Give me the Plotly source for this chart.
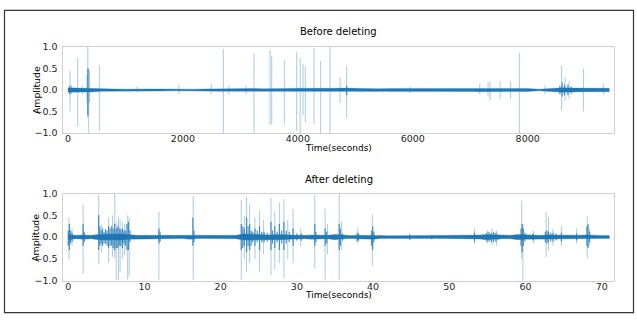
import plotly.graph_objects as go

# ---------------- data ----------------
# Before deleting: noise-floor envelope (time, amplitude)
TOP_CORE_T = [0, 200, 400, 600, 800, 1000, 1200, 1400, 1600, 1800, 2000, 2200, 2400, 2600,
              2800, 3000, 3200, 3400, 3600, 3800, 4000, 4200, 4400, 4600, 4800, 5000, 5200,
              5400, 5600, 5800, 6000, 6200, 6400, 6600, 6800, 7000, 7200, 7400, 7600, 7800,
              8000, 8200, 8400, 8600, 8800, 9000, 9200, 9420]
TOP_CORE_A = [0.05, 0.04, 0.045, 0.03, 0.025, 0.02, 0.03, 0.025, 0.025, 0.02, 0.025, 0.02, 0.025, 0.03,
              0.04, 0.035, 0.035, 0.03, 0.04, 0.035, 0.04, 0.035, 0.035, 0.04, 0.045, 0.035, 0.035,
              0.03, 0.035, 0.035, 0.04, 0.035, 0.03, 0.035, 0.035, 0.035, 0.04, 0.04, 0.04, 0.04,
              0.035, 0.02, 0.035, 0.05, 0.045, 0.04, 0.035, 0.04]
# Before deleting: peaks (time, max, min)
TOP_SPIKE_T = [35, 60, 169, 250, 330, 345, 360, 375, 545, 1200, 1930, 2490, 2703, 2800, 3100,
               3237, 3515, 3545, 3765, 3980, 4040, 4090, 4130, 4281, 4397, 4560, 4735, 4850,
               5950, 7165, 7310, 7345, 7520, 7700, 7855, 8300, 8590, 8650, 8720, 8970, 9316]
TOP_SPIKE_HI = [0.45, 0.12, 0.75, 0.10, 0.35, 1.0, 0.5, 0.45, 0.58, 0.08, 0.12, 0.15, 0.95, 0.10, 0.10,
                0.85, 0.93, 0.80, 0.70, 0.88, 0.75, 0.60, 0.55, 0.98, 0.68, 1.0, 0.30, 0.55,
                0.08, 0.15, 0.18, 0.20, 0.20, 0.20, 0.87, 0.10, 0.58, 0.30, 0.20, 0.50, 0.15]
TOP_SPIKE_LO = [-0.5, -0.1, -0.85, -0.1, -0.3, -0.65, -1.0, -0.3, -0.95, -0.06, -0.1, -0.1, -1.0, -0.1, -0.1,
                -1.0, -0.82, -0.8, -0.8, -0.95, -1.0, -0.6, -0.75, -0.8, -1.0, -1.0, -0.3, -0.65,
                -0.08, -0.1, -0.15, -0.25, -0.22, -0.2, -1.0, -0.1, -0.47, -0.25, -0.2, -0.5, -0.1]
# Before deleting: dense bursts (time, max, min)
TOP_BURST_T = [30, 345, 4850, 8560, 8600, 8640, 8700, 8760]
TOP_BURST_HI = [0.10, 0.50, 0.10, 0.10, 0.18, 0.12, 0.12, 0.08]
TOP_BURST_LO = [-0.10, -0.60, -0.12, -0.10, -0.15, -0.12, -0.12, -0.08]

# After deleting: noise-floor envelope
BOT_CORE_T = list(range(0, 71)) + [71]
BOT_CORE_A = [0.06, 0.04, 0.05, 0.04, 0.06, 0.07, 0.07, 0.07, 0.05, 0.04, 0.04, 0.04, 0.05, 0.035,
              0.035, 0.035, 0.05, 0.035, 0.035, 0.04, 0.04, 0.035, 0.04, 0.07, 0.07, 0.06, 0.05, 0.06,
              0.06, 0.05, 0.04, 0.04, 0.05, 0.05, 0.04, 0.06, 0.04, 0.035, 0.04, 0.04, 0.05, 0.035,
              0.03, 0.035, 0.035, 0.04, 0.035, 0.035, 0.035, 0.03, 0.03, 0.035, 0.035, 0.04, 0.045, 0.06,
              0.05, 0.04, 0.04, 0.06, 0.05, 0.04, 0.04, 0.05, 0.045, 0.04, 0.04, 0.04, 0.05, 0.035,
              0.035, 0.035]
BOT_SPIKE_T = [0.1, 0.5, 1.95, 4.0, 4.4, 5.3, 5.8, 6.1, 6.3, 6.6, 6.8, 7.1, 7.4, 7.8, 8.0, 11.9, 16.4,
               22.7, 23.1, 23.4, 23.8, 24.5, 25.1, 25.6, 26.6, 27.1, 27.7, 28.3, 28.8, 29.5, 30.5,
               32.35, 33.7, 34.0, 35.55, 35.85, 38.0, 39.9, 44.8, 53.3, 55.0, 55.6, 56.2, 59.5,
               59.65, 61.0, 62.7, 63.0, 63.6, 64.7, 66.7, 68.1, 68.4]
BOT_SPIKE_HI = [0.45, 0.2, 0.75, 0.97, 0.3, 0.45, 0.5, 1.0, 0.35, 0.45, 0.4, 0.35, 0.3, 0.5, 0.45, 0.58, 0.95,
                0.85, 0.5, 0.92, 0.75, 0.45, 0.6, 0.4, 0.9, 0.6, 0.8, 0.87, 0.4, 0.65, 0.2,
                0.97, 0.65, 0.3, 1.0, 0.35, 0.2, 0.52, 0.06, 0.2, 0.15, 0.2, 0.15, 0.84,
                0.3, 0.15, 0.58, 0.45, 0.2, 0.25, 0.2, 0.48, 0.2]
BOT_SPIKE_LO = [-0.52, -0.2, -0.85, -0.63, -0.35, -0.6, -0.45, -0.5, -1.0, -1.0, -0.8, -0.5, -0.4, -0.97, -0.9, -1.0, -1.0,
                -1.0, -0.5, -0.8, -0.6, -0.5, -0.8, -0.4, -0.88, -0.75, -0.6, -0.95, -0.5, -0.6, -0.2,
                -0.73, -1.0, -0.4, -1.0, -0.3, -0.15, -0.66, -0.06, -0.15, -0.15, -0.2, -0.2, -0.5,
                -1.0, -0.15, -0.46, -0.3, -0.2, -0.2, -0.15, -0.48, -0.2]
BOT_BURST_T = [0.0, 0.15, 0.3, 0.5, 1.95, 2.1,
               4.0, 4.15, 4.3, 4.5, 4.7, 4.9, 5.1, 5.3, 5.5, 5.7, 5.9, 6.1, 6.3, 6.5, 6.7, 6.9,
               7.1, 7.3, 7.5, 7.7, 7.9, 8.1, 11.9, 12.05, 16.35, 16.5,
               22.7, 22.9, 23.1, 23.4, 23.6, 23.8, 24.0, 24.2, 24.5, 24.8, 25.1, 25.4, 25.7, 26.1,
               26.6, 26.8, 27.1, 27.4, 27.7, 28.0, 28.3, 28.6, 29.0, 29.5, 30.0, 30.6,
               32.35, 32.5, 33.7, 33.9, 35.55, 35.7, 36.0, 37.9, 38.1, 39.8, 39.95, 40.1,
               44.8, 47.7, 53.3, 54.5, 54.9, 55.2, 55.5, 55.8, 56.1, 56.4,
               59.4, 59.55, 59.7, 59.9, 61.0, 62.6, 62.8, 63.0, 63.3, 63.6, 64.0, 64.7, 66.7,
               68.05, 68.2, 68.4]
BOT_BURST_HI = [0.15, 0.3, 0.15, 0.1, 0.3, 0.12,
                0.5, 0.25, 0.15, 0.2, 0.12, 0.18, 0.15, 0.25, 0.2, 0.25, 0.2, 0.3, 0.2, 0.25, 0.2, 0.18,
                0.2, 0.15, 0.15, 0.3, 0.35, 0.15, 0.2, 0.12, 0.45, 0.15,
                0.3, 0.25, 0.2, 0.45, 0.25, 0.3, 0.15, 0.12, 0.2, 0.15, 0.25, 0.12, 0.12, 0.1,
                0.35, 0.15, 0.25, 0.12, 0.3, 0.15, 0.35, 0.15, 0.12, 0.2, 0.08, 0.08,
                0.3, 0.12, 0.2, 0.12, 0.3, 0.2, 0.08, 0.1, 0.08, 0.15, 0.25, 0.12,
                0.06, 0.05, 0.1, 0.06, 0.1, 0.12, 0.1, 0.12, 0.1, 0.06,
                0.2, 0.3, 0.2, 0.1, 0.08, 0.12, 0.15, 0.12, 0.1, 0.1, 0.08, 0.1, 0.08,
                0.25, 0.3, 0.12]
BOT_BURST_LO = [-0.2, -0.3, -0.15, -0.1, -0.2, -0.12,
                -0.3, -0.2, -0.15, -0.2, -0.15, -0.15, -0.2, -0.25, -0.2, -0.2, -0.25, -0.3, -0.25, -0.25, -0.2, -0.2,
                -0.25, -0.15, -0.2, -0.3, -0.3, -0.12, -0.15, -0.1, -0.2, -0.12,
                -0.3, -0.25, -0.2, -0.35, -0.2, -0.3, -0.2, -0.12, -0.2, -0.12, -0.3, -0.12, -0.12, -0.1,
                -0.3, -0.15, -0.25, -0.12, -0.3, -0.15, -0.3, -0.15, -0.12, -0.2, -0.08, -0.08,
                -0.2, -0.12, -0.2, -0.15, -0.3, -0.2, -0.08, -0.1, -0.08, -0.2, -0.3, -0.12,
                -0.06, -0.05, -0.1, -0.06, -0.1, -0.1, -0.12, -0.12, -0.1, -0.06,
                -0.2, -0.35, -0.2, -0.1, -0.08, -0.12, -0.15, -0.12, -0.1, -0.1, -0.08, -0.1, -0.08,
                -0.2, -0.25, -0.12]

Y_TICKS = [-1.0, -0.5, 0.0, 0.5, 1.0]
Y_TICK_TEXT = ["\u22121.0", "\u22120.5", "0.0", "0.5", "1.0"]
TOP_X_TICKS = [0, 2000, 4000, 6000, 8000]
BOT_X_TICKS = [0, 10, 20, 30, 40, 50, 60, 70]
TITLES = ["Before deleting", "After deleting"]
X_LABEL = "Time(seconds)"
Y_LABEL = "Amplitude"

# ---------------- figure ----------------
W, H = 637, 320
BLUE = "#1f77b4"
FONT = "DejaVu Sans"


def px(x):
    return x / W


def py(y):
    return 1 - y / H


def segs(ts, his, los):
    xs, ys = [], []
    for t, h, l in zip(ts, his, los):
        xs += [t, t, None]
        ys += [l, h, None]
    return xs, ys


def band(ts, amps):
    xs = list(ts) + list(ts)[::-1]
    ys = list(amps) + [-a for a in amps][::-1]
    return xs, ys


fig = go.Figure()

panels = [
    ("x", "y", TOP_CORE_T, TOP_CORE_A, TOP_SPIKE_T, TOP_SPIKE_HI, TOP_SPIKE_LO,
     TOP_BURST_T, TOP_BURST_HI, TOP_BURST_LO),
    ("x2", "y2", BOT_CORE_T, BOT_CORE_A, BOT_SPIKE_T, BOT_SPIKE_HI, BOT_SPIKE_LO,
     BOT_BURST_T, BOT_BURST_HI, BOT_BURST_LO),
]
for xa, ya, ct, ca, st, sh, sl, bt, bh, bl in panels:
    sx, sy = segs(st, sh, sl)
    fig.add_trace(go.Scatter(x=sx, y=sy, mode="lines", xaxis=xa, yaxis=ya,
                             line=dict(color="rgba(31,119,180,0.38)", width=1),
                             hoverinfo="skip", showlegend=False))
    bx, by = band(ct, ca)
    fig.add_trace(go.Scatter(x=bx, y=by, mode="lines", fill="toself", xaxis=xa, yaxis=ya,
                             fillcolor=BLUE, line=dict(color=BLUE, width=0.3),
                             hoverinfo="skip", showlegend=False))
    ux, uy = segs(bt, bh, bl)
    fig.add_trace(go.Scatter(x=ux, y=uy, mode="lines", xaxis=xa, yaxis=ya,
                             line=dict(color="rgba(31,119,180,0.8)", width=1.2),
                             hoverinfo="skip", showlegend=False))

axis_common = dict(showline=True, mirror=True, linecolor="#d0d0d0", linewidth=1,
                   showgrid=False, zeroline=False, ticks="",
                   tickfont=dict(family=FONT, size=9.5, color="#262626"))

fig.update_layout(
    width=W, height=H, margin=dict(l=0, r=0, t=0, b=0),
    paper_bgcolor="white", plot_bgcolor="white",
    xaxis=dict(domain=[px(62.5), px(614)], range=[-96, 9502], anchor="y",
               tickvals=TOP_X_TICKS, ticktext=[str(v) for v in TOP_X_TICKS],
               ticklabelstandoff=-3, **axis_common),
    yaxis=dict(domain=[py(131.5), py(42.5)], range=[-1, 1], anchor="x",
               tickvals=Y_TICKS, ticktext=Y_TICK_TEXT, ticklabelstandoff=2, **axis_common),
    xaxis2=dict(domain=[px(62.5), px(614)], range=[-0.75, 71.6], anchor="y2",
                tickvals=BOT_X_TICKS, ticktext=[str(v) for v in BOT_X_TICKS],
                ticklabelstandoff=-3, **axis_common),
    yaxis2=dict(domain=[py(284.3), py(194.3)], range=[-1, 1], anchor="x2",
                tickvals=Y_TICKS, ticktext=Y_TICK_TEXT, ticklabelstandoff=2, **axis_common),
)

ann = []
for title, ty, xl_y, yl_y in [(TITLES[0], 26.5, 147, 87), (TITLES[1], 180, 299, 240)]:
    ann.append(dict(text=title, x=px(338.5), y=py(ty), xref="paper", yref="paper",
                    showarrow=False, xanchor="center", yanchor="middle",
                    font=dict(family=FONT, size=10, color="#000000")))
    ann.append(dict(text=X_LABEL, x=px(338.5), y=py(xl_y), xref="paper", yref="paper",
                    showarrow=False, xanchor="center", yanchor="middle",
                    font=dict(family=FONT, size=9, color="#000000")))
    ann.append(dict(text=Y_LABEL, x=px(36), y=py(yl_y), xref="paper", yref="paper",
                    showarrow=False, xanchor="center", yanchor="middle", textangle=-90,
                    font=dict(family=FONT, size=9.3, color="#000000")))
fig.update_layout(annotations=ann)

fig.add_shape(type="rect", xref="paper", yref="paper",
              x0=px(4.5), x1=px(633.5), y0=py(317.5), y1=py(4.5),
              line=dict(color="#333333", width=1.2), fillcolor="rgba(0,0,0,0)")

fig.write_html("out.html", config={"displayModeBar": False},
               post_script="document.body.style.margin='0';document.body.style.overflow='hidden';")
